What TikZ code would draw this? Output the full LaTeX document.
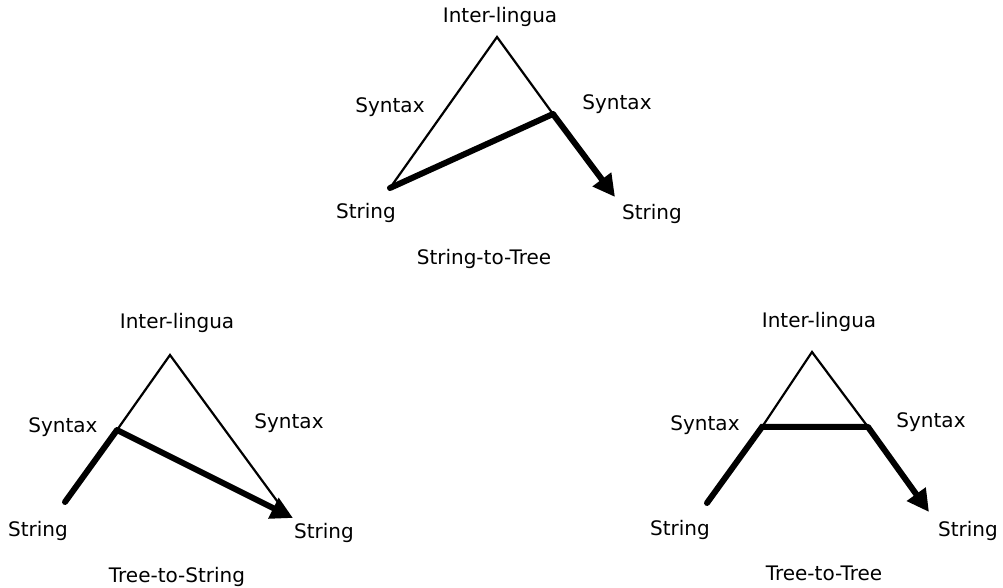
\documentclass[tikz,border=0pt]{standalone}
\usepackage{fontspec}
\setmainfont{DejaVu Sans}
\usetikzlibrary{arrows.meta}

\tikzset{
  thin edge/.style={line width=1.1pt},
  thick edge/.style={line width=3pt,line cap=round},
  thick arrow/.style={line width=3pt,-{Triangle[length=11pt,width=11pt]}},
  lbl/.style={font=\fontsize{10}{12}\selectfont,inner sep=0pt}
}

\begin{document}
\begin{tikzpicture}[x=0.5pt,y=-0.5pt]
              \useasboundingbox (0,0) rectangle (1003,588);
              % String-to-Tree
              \coordinate (TA) at (497,37);
              \coordinate (TL) at (390,188);
              \coordinate (TS) at (553,114);
              \coordinate (TE) at (615,197);
              \node[lbl] (TAL) at (500,17) {Inter-lingua};
              \node[lbl] (TSL) at (390,107) {Syntax};
              \node[lbl] (TSR) at (617,104) {Syntax};
              \node[lbl] (TLL) at (366,213) {String};
              \node[lbl] (TRL) at (652,214) {String};
              \node[lbl] (TCap) at (484,259) {String-to-Tree};
              \draw[thin edge] (TL)--(TA)--(TS);
              \draw[thick edge] (TL)--(TS);
              \draw[thick arrow] (TS)--(TE);
              % Tree-to-String
              \coordinate (LA) at (170,355);
              \coordinate (LS) at (117,430);
              \coordinate (LB) at (65,502);
              \coordinate (LE) at (293,518);
              \coordinate (LR) at (280,505);
              \node[lbl] (LAL) at (177,323) {Inter-lingua};
              \node[lbl] (LSL) at (63,427) {Syntax};
              \node[lbl] (LSR) at (289,423) {Syntax};
              \node[lbl] (LLL) at (38,531) {String};
              \node[lbl] (LRL) at (324,533) {String};
              \node[lbl] (LCap) at (177,577) {Tree-to-String};
              \draw[thin edge] (LS)--(LA)--(LR);
              \draw[thick edge] (LB)--(LS);
              \draw[thick arrow] (LS)--(LE);
              % Tree-to-Tree
              \coordinate (RA) at (812,352);
              \coordinate (RS) at (762,427);
              \coordinate (RT) at (868,427);
              \coordinate (RB) at (707,503);
              \coordinate (RE) at (929,512);
              \node[lbl] (RAL) at (819,322) {Inter-lingua};
              \node[lbl] (RSL) at (705,425) {Syntax};
              \node[lbl] (RSR) at (931,422) {Syntax};
              \node[lbl] (RLL) at (680,530) {String};
              \node[lbl] (RRL) at (968,531) {String};
              \node[lbl] (RCap) at (824,573) {Tree-to-Tree};
              \draw[thin edge] (RS)--(RA)--(RT);
              \draw[thick edge] (RB)--(RS)--(RT);
              \draw[thick arrow] (RT)--(RE);
\end{tikzpicture}
\end{document}
